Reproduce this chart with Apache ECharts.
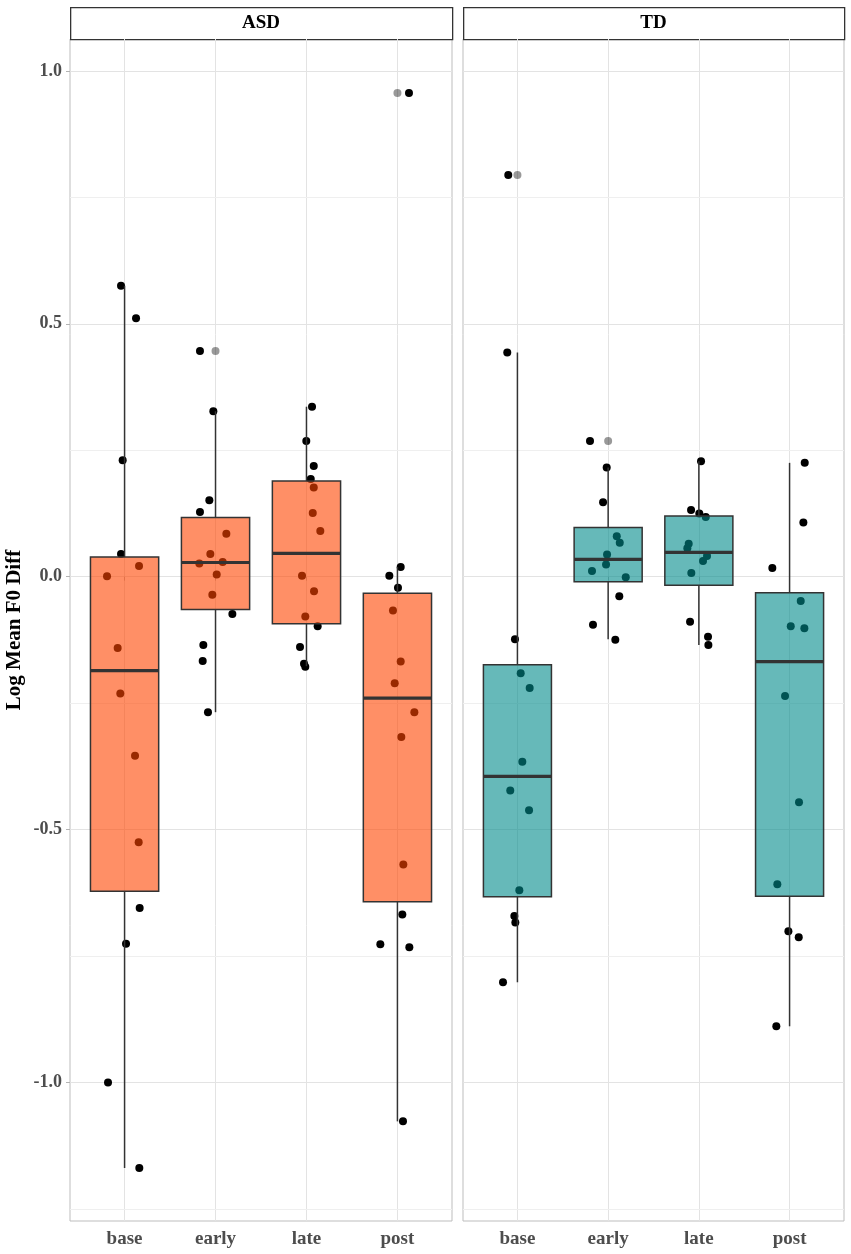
<!DOCTYPE html>
<html>
<head>
<meta charset="utf-8">
<script src="https://cdn.jsdelivr.net/npm/echarts@6/dist/echarts.min.js"></script>
<style>
  html, body { margin: 0; padding: 0; background: #fff; }
  #main { width: 851px; height: 1254px; }
</style>
</head>
<body>
<div id="main"></div>
<script>
// categories and axis ticks
var categories = ['base', 'early', 'late', 'post'];
var panels = ['ASD', 'TD'];
var yTicks = [-1.0, -0.5, 0.0, 0.5, 1.0];
var yMinorTicks = [-1.25, -0.75, -0.25, 0.25, 0.75];

// box stats per category: [lower whisker, q1, median, q3, upper whisker]
var asdBoxes = [
  [-1.169, -0.622, -0.186, 0.039, 0.575],
  [-0.268, -0.065, 0.028, 0.117, 0.327],
  [-0.177, -0.093, 0.046, 0.189, 0.336],
  [-1.077, -0.643, -0.240, -0.033, 0.019]
];
var tdBoxes = [
  [-0.802, -0.633, -0.395, -0.174, 0.443],
  [-0.124, -0.010, 0.034, 0.097, 0.216],
  [-0.135, -0.017, 0.048, 0.120, 0.228],
  [-0.889, -0.632, -0.168, -0.032, 0.225]
];

// boxplot outliers [category position, value]
var asdOutliers = [[2, 0.446], [4, 0.956]];
var tdOutliers = [[1, 0.794], [2, 0.268]];

// jittered observations [x, value]
var asdPoints = [
  [0.961, 0.575], [1.126, 0.511], [0.979, 0.230], [0.961, 0.045], [1.159, 0.021],
  [0.807, 0.001], [0.924, -0.141], [0.953, -0.231], [1.115, -0.354], [1.155, -0.525],
  [1.166, -0.655], [1.016, -0.726], [0.818, -1.000], [1.162, -1.169],
  [1.829, 0.446], [1.976, 0.327], [1.932, 0.151], [1.829, 0.128], [2.119, 0.085],
  [1.943, 0.045], [1.822, 0.026], [2.079, 0.029], [2.013, 0.004], [1.965, -0.036],
  [2.185, -0.074], [1.866, -0.135], [1.859, -0.167], [1.917, -0.268],
  [3.061, 0.336], [2.998, 0.268], [3.080, 0.219], [3.047, 0.193], [3.080, 0.176],
  [3.069, 0.126], [3.152, 0.090], [2.951, 0.002], [3.083, -0.029], [2.987, -0.079],
  [3.123, -0.098], [2.929, -0.139], [2.973, -0.172], [2.987, -0.178],
  [4.127, 0.956], [4.036, 0.019], [3.911, 0.002], [4.006, -0.022], [3.951, -0.067],
  [4.036, -0.168], [3.970, -0.211], [4.186, -0.268], [4.043, -0.317], [4.065, -0.569],
  [4.054, -0.668], [3.812, -0.727], [4.131, -0.733], [4.061, -1.077]
];
var tdPoints = [
  [0.899, 0.794], [0.888, 0.443], [0.973, -0.124], [1.036, -0.191], [1.135, -0.220],
  [1.054, -0.366], [0.921, -0.423], [1.128, -0.462], [1.021, -0.620], [0.966, -0.671],
  [0.977, -0.684], [0.841, -0.802],
  [1.800, 0.268], [1.984, 0.216], [1.944, 0.147], [2.095, 0.080], [2.128, 0.067],
  [1.988, 0.044], [1.977, 0.024], [1.822, 0.011], [2.194, -0.001], [2.123, -0.039],
  [1.833, -0.095], [2.079, -0.125],
  [3.024, 0.228], [2.914, 0.132], [3.005, 0.125], [3.076, 0.118], [2.888, 0.065],
  [2.873, 0.056], [3.090, 0.041], [3.046, 0.031], [2.917, 0.007], [2.903, -0.089],
  [3.101, -0.119], [3.105, -0.135],
  [4.167, 0.225], [4.152, 0.107], [3.810, 0.017], [4.123, -0.048], [4.013, -0.098],
  [4.163, -0.102], [3.950, -0.236], [4.104, -0.446], [3.865, -0.608], [3.987, -0.701],
  [4.101, -0.713], [3.854, -0.889]
];

var fills = ['rgba(255,69,0,0.6)', 'rgba(0,139,139,0.6)'];
var FONT = '"Liberation Serif", "Times New Roman", serif';
var BOX_HALF = 0.375;
var LINE = '#333333';

var chart = echarts.init(document.getElementById('main'), null, { renderer: 'canvas' });

// box + whiskers + thick median
function makeRenderBox(fill) {
  return function (params, api) {
    var x = api.value(0);
    var low = api.coord([x, api.value(1)]);
    var q1L = api.coord([x - BOX_HALF, api.value(2)]);
    var medL = api.coord([x - BOX_HALF, api.value(3)]);
    var medR = api.coord([x + BOX_HALF, api.value(3)]);
    var q3R = api.coord([x + BOX_HALF, api.value(4)]);
    var high = api.coord([x, api.value(5)]);
    var q1 = api.coord([x, api.value(2)]);
    var q3 = api.coord([x, api.value(4)]);
    return {
      type: 'group',
      children: [
        { type: 'line', shape: { x1: high[0], y1: high[1], x2: q3[0], y2: q3[1] },
          style: { stroke: LINE, lineWidth: 1.5 } },
        { type: 'line', shape: { x1: q1[0], y1: q1[1], x2: low[0], y2: low[1] },
          style: { stroke: LINE, lineWidth: 1.5 } },
        { type: 'rect', shape: { x: q1L[0], y: q3R[1], width: q3R[0] - q1L[0], height: q1L[1] - q3R[1] },
          style: { fill: fill, stroke: LINE, lineWidth: 1.5 } },
        { type: 'line', shape: { x1: medL[0], y1: medL[1], x2: medR[0], y2: medR[1] },
          style: { stroke: LINE, lineWidth: 3.2 } }
      ]
    };
  };
}

function boxData(boxes) {
  return boxes.map(function (b, i) { return [i + 1].concat(b); });
}

var grids = [
  { left: 70, top: 39, width: 382, height: 1182 },
  { left: 463, top: 39, width: 381, height: 1182 }
];

var xAxes = [], yAxes = [], series = [], graphics = [];
var allBoxes = [asdBoxes, tdBoxes];
var allPoints = [asdPoints, tdPoints];
var allOutliers = [asdOutliers, tdOutliers];

grids.forEach(function (g, i) {
  g.show = true;
  g.borderColor = '#bdbdbd';
  g.borderWidth = 1;
  g.backgroundColor = 'transparent';
  g.outerBoundsMode = 'none';

  xAxes.push({
    type: 'value', gridIndex: i, min: 0.4, max: 4.6,
    axisLine: { show: false },
    axisTick: { show: true, length: 4, customValues: [1, 2, 3, 4], lineStyle: { color: '#b3b3b3' } },
    axisLabel: {
      show: true, customValues: [1, 2, 3, 4], margin: 9,
      formatter: function (v) { return categories[Math.round(v) - 1] || ''; },
      fontFamily: FONT, fontWeight: 'bold', fontSize: 19, color: '#4d4d4d'
    },
    splitLine: { show: true, lineStyle: { color: '#e3e3e3', width: 1 } }
  });

  yAxes.push({
    type: 'value', gridIndex: i, min: -1.274, max: 1.063,
    name: i === 0 ? 'Log Mean F0 Diff' : '',
    nameLocation: 'middle', nameGap: 45, nameRotate: 90,
    nameTextStyle: { fontFamily: FONT, fontWeight: 'bold', fontSize: 21, color: '#000' },
    axisLine: { show: false },
    axisTick: { show: i === 0, length: 4, customValues: yTicks, lineStyle: { color: '#b3b3b3' } },
    axisLabel: {
      show: i === 0, customValues: yTicks, margin: 8,
      formatter: function (v) { return v.toFixed(1); },
      fontFamily: FONT, fontWeight: 'bold', fontSize: 18, color: '#4d4d4d'
    },
    splitLine: { show: true, lineStyle: { color: '#e3e3e3', width: 1 } }
  });

  // jittered raw points (under the boxes)
  series.push({
    type: 'scatter', xAxisIndex: i, yAxisIndex: i, z: 2,
    data: allPoints[i], symbolSize: 8,
    itemStyle: { color: '#000', opacity: 1 },
    markLine: {
      silent: true, symbol: 'none', z: 1,
      label: { show: false },
      lineStyle: { color: '#efefef', width: 1, type: 'solid' },
      data: yMinorTicks.map(function (v) { return { yAxis: v }; })
    }
  });

  // boxes
  series.push({
    type: 'custom', xAxisIndex: i, yAxisIndex: i, z: 3,
    renderItem: makeRenderBox(fills[i]),
    encode: { x: 0, y: [1, 2, 3, 4, 5] },
    data: boxData(allBoxes[i])
  });

  // boxplot outliers
  series.push({
    type: 'scatter', xAxisIndex: i, yAxisIndex: i, z: 4,
    data: allOutliers[i], symbolSize: 8,
    itemStyle: { color: 'rgba(0,0,0,0.5)' }
  });

  // facet strip
  graphics.push({
    type: 'rect', left: g.left, top: 7,
    shape: { width: g.width, height: 32 },
    style: { fill: '#fff', stroke: '#333', lineWidth: 1.3 }
  });
  graphics.push({
    type: 'text', x: g.left + g.width / 2, y: 23,
    style: {
      text: panels[i], x: 0, y: 0, fill: '#000',
      font: 'bold 19px ' + FONT, textAlign: 'center', textVerticalAlign: 'middle'
    }
  });
});

var option = {
  animation: false,
  backgroundColor: '#fff',
  grid: grids,
  xAxis: xAxes,
  yAxis: yAxes,
  series: series,
  graphic: graphics
};
chart.setOption(option);
</script>
</body>
</html>
